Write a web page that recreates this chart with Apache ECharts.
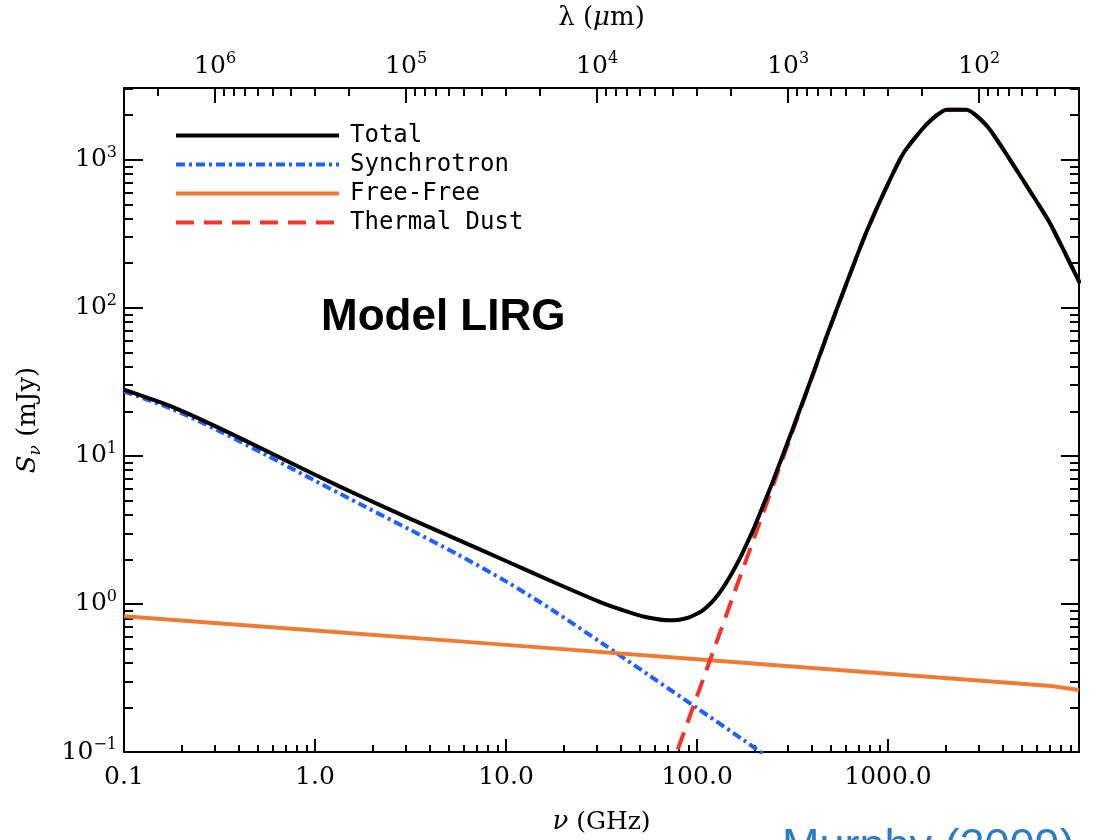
<!DOCTYPE html>
<html><head><meta charset="utf-8">
<script src="https://cdn.jsdelivr.net/npm/echarts@6/dist/echarts.min.js"></script>
<style>html,body{margin:0;padding:0;background:#fff}#c{width:1096px;height:840px}</style>
</head><body><div id="c"></div>
<script>
// ν in GHz, S in mJy
const nuTotal = [0.1, 0.178, 0.316, 0.562, 1, 1.78, 3.16, 5.62, 10, 17.8, 31.6, 44.7, 56.2, 70.8, 79.4, 89.1, 100, 105.9, 112.2, 118.9, 125.9, 133.4, 141.3, 149.6, 158.5, 167.9, 177.8, 188.4, 199.5, 223.9, 251.2, 316.2, 398.1, 477.5, 743, 944, 1202, 1592, 2028, 2576, 3350, 5534, 7047, 10116];
const sTotal  = [28.0, 21.5, 15.4, 10.75, 7.45, 5.25, 3.75, 2.71, 1.95, 1.40, 1.02, 0.874, 0.806, 0.775, 0.78, 0.804, 0.858, 0.895, 0.95, 1.02, 1.11, 1.225, 1.37, 1.55, 1.77, 2.04, 2.38, 2.79, 3.30, 4.74, 6.88, 15.05, 33.7, 64.5, 289, 586, 1102, 1734, 2178, 2178, 1648, 615, 372, 146];
const nuSync = [0.1, 0.178, 0.316, 0.562, 1, 1.78, 3.16, 5.62, 10, 17.8, 31.6, 56.2, 100, 178, 316];
const sSync  = [27.2, 20.75, 14.69, 10.05, 6.79, 4.62, 3.16, 2.15, 1.42, 0.896, 0.546, 0.329, 0.198, 0.1187, 0.0707];
const nuFF = [0.1, 1, 10, 100, 1000, 7160, 10000];
const sFF  = [0.826, 0.661, 0.529, 0.423, 0.338, 0.279, 0.262];
const nuDust = [70.8, 100, 125.9, 158.5, 199.5, 251.2, 316.2, 398.1, 477.5, 743, 944, 1202, 1592, 2028, 2576, 3350, 5534, 7047, 10116];
const sDust  = [0.0693, 0.238, 0.542, 1.236, 2.81, 6.41, 14.6, 33.3, 63.7, 289, 586, 1102, 1734, 2178, 2178, 1648, 615, 372, 146];

const seriesNames = ['Total', 'Synchrotron', 'Free-Free', 'Thermal Dust'];
const nuTicks = [0.1, 1, 10, 100, 1000];
const sTicks = [0.1, 1, 10, 100, 1000];
const lamTicks = [100, 1000, 10000, 100000, 1000000];
const C_UM_GHZ = 2.998e5; // λ[μm] = C / ν[GHz]
const NU_MIN = 0.1, NU_MAX = 1e4, S_MIN = 0.1, S_MAX = 3050;

function minors(lo, hi) {
  const out = [];
  for (let e = -3; e <= 7; e++) for (let k = 2; k <= 9; k++) {
    const v = k * Math.pow(10, e);
    if (v > lo * 1.0001 && v < hi * 0.9999) out.push(v);
  }
  return out;
}
function majors(lo, hi) {
  const out = [];
  for (let e = -3; e <= 7; e++) { const v = Math.pow(10, e); if (v >= lo * 0.9999 && v <= hi * 1.0001) out.push(v); }
  return out;
}
const FONT = 'DejaVu Serif';
const pow10Rich = {
  b: {fontFamily: FONT, fontSize: 25, color: '#000', lineHeight: 30},
  s: {fontFamily: FONT, fontSize: 16, color: '#000', verticalAlign: 'top', lineHeight: 16}
};
function pow10Label(v) {
  const e = Math.round(Math.log10(v));
  return '{b|10}{s|' + (e < 0 ? '\u2212' + (-e) : e) + '}';
}
const frame = {show: true, lineStyle: {color: '#000', width: 2}};
const LAM_MIN = C_UM_GHZ / NU_MAX, LAM_MAX = C_UM_GHZ / NU_MIN;

function pairs(xs, ys) { return xs.map((x, i) => [x, ys[i]]); }

const chart = echarts.init(document.getElementById('c'), null, {renderer: 'canvas'});
chart.setOption({
  animation: false,
  backgroundColor: '#fff',
  grid: {left: 124, right: 17, top: 81, bottom: 77, containLabel: false},
  xAxis: [
    {type: 'log', min: NU_MIN, max: NU_MAX, position: 'bottom',
      axisLine: frame,
      axisTick: {inside: true, length: 13, lineStyle: {color: '#000', width: 2}, customValues: majors(NU_MIN, NU_MAX)},
      axisLabel: {customValues: nuTicks, margin: 13, color: '#000', fontFamily: FONT, fontSize: 25,
        formatter: v => (Math.abs(v - 0.1) < 1e-9 ? '0.1' : Number(v).toFixed(1))},
      splitLine: {show: false},
      name: '{i|\u03bd}{n| (GHz)}', nameLocation: 'middle', nameGap: 57,
      nameTextStyle: {rich: {i: {fontFamily: FONT, fontStyle: 'italic', fontSize: 26, color: '#000'}, n: {fontFamily: FONT, fontSize: 25, color: '#000'}}}
    },
    {type: 'log', min: NU_MIN, max: NU_MAX, position: 'bottom',
      axisLine: {show: false},
      axisTick: {inside: true, length: 7, lineStyle: {color: '#000', width: 2}, customValues: minors(NU_MIN, NU_MAX)},
      axisLabel: {show: false}, splitLine: {show: false}
    },
    {type: 'log', min: LAM_MIN, max: LAM_MAX, inverse: true, position: 'top',
      axisLine: frame,
      axisTick: {inside: true, length: 15, lineStyle: {color: '#000', width: 2}, customValues: lamTicks},
      axisLabel: {customValues: lamTicks, margin: 7, formatter: pow10Label, rich: pow10Rich},
      splitLine: {show: false},
      name: '{n|\u03bb (}{i|\u03bc}{n|m)}', nameLocation: 'middle', nameGap: 57,
      nameTextStyle: {rich: {i: {fontFamily: FONT, fontStyle: 'italic', fontSize: 26, color: '#000'}, n: {fontFamily: FONT, fontSize: 26, color: '#000'}}}
    },
    {type: 'log', min: LAM_MIN, max: LAM_MAX, inverse: true, position: 'top',
      axisLine: {show: false},
      axisTick: {inside: true, length: 8, lineStyle: {color: '#000', width: 2}, customValues: minors(LAM_MIN, LAM_MAX)},
      axisLabel: {show: false}, splitLine: {show: false}
    }
  ],
  yAxis: [
    {type: 'log', min: S_MIN, max: S_MAX, position: 'left',
      axisLine: frame,
      axisTick: {inside: true, length: 19, lineStyle: {color: '#000', width: 2}, customValues: sTicks},
      axisLabel: {customValues: sTicks, margin: 7, formatter: pow10Label, rich: pow10Rich},
      splitLine: {show: false},
      name: '{i|S}{sub|\u03bd}{n| (mJy)}', nameLocation: 'middle', nameGap: 80, nameRotate: 90,
      nameTextStyle: {rich: {
        i: {fontFamily: FONT, fontStyle: 'italic', fontSize: 26, color: '#000', lineHeight: 32},
        sub: {fontFamily: FONT, fontStyle: 'italic', fontSize: 17, color: '#000', verticalAlign: 'bottom', lineHeight: 17},
        n: {fontFamily: FONT, fontSize: 26, color: '#000', lineHeight: 32}}}
    },
    {type: 'log', min: S_MIN, max: S_MAX, position: 'left',
      axisLine: {show: false},
      axisTick: {inside: true, length: 9, lineStyle: {color: '#000', width: 2}, customValues: minors(S_MIN, S_MAX)},
      axisLabel: {show: false}, splitLine: {show: false}
    },
    {type: 'log', min: S_MIN, max: S_MAX, position: 'right',
      axisLine: frame,
      axisTick: {inside: true, length: 18, lineStyle: {color: '#000', width: 2}, customValues: sTicks},
      axisLabel: {show: false}, splitLine: {show: false}
    },
    {type: 'log', min: S_MIN, max: S_MAX, position: 'right',
      axisLine: {show: false},
      axisTick: {inside: true, length: 9, lineStyle: {color: '#000', width: 2}, customValues: minors(S_MIN, S_MAX)},
      axisLabel: {show: false}, splitLine: {show: false}
    }
  ],
  legend: {
    orient: 'vertical', left: 169, top: 116,
    itemWidth: 163, itemHeight: 14, itemGap: 0,
    data: seriesNames,
    itemStyle: {opacity: 0},
    lineStyle: {width: 'inherit', opacity: 1},
    textStyle: {fontFamily: 'DejaVu Sans Mono', fontSize: 24, color: '#000', lineHeight: 29, padding: [0, 0, 0, 6]},
    selectedMode: false
  },
  graphic: [
    {type: 'text', left: 321, top: 296, style: {text: 'Model LIRG', font: 'bold 44px "Liberation Sans", Arial, sans-serif', fill: '#000'}},
    {type: 'text', x: 782, y: 848, style: {text: 'Murphy (2009)', font: '45px "Liberation Sans", Arial, sans-serif', fill: '#2a7bc9', verticalAlign: 'middle'}}
  ],
  series: [
    {name: seriesNames[1], type: 'line', data: pairs(nuSync, sSync), symbol: 'none', z: 2, smooth: 0.3,
      lineStyle: {color: '#1f5fff', width: 4, type: [9, 4, 3, 4]}, itemStyle: {color: '#1f5fff'}},
    {name: seriesNames[2], type: 'line', data: pairs(nuFF, sFF), symbol: 'none', z: 2,
      lineStyle: {color: '#f07a32', width: 4}, itemStyle: {color: '#f07a32'}},
    {name: seriesNames[3], type: 'line', data: pairs(nuDust, sDust), symbol: 'none', z: 2, smooth: 0.2,
      lineStyle: {color: '#f0352d', width: 4, type: [18, 10]}, itemStyle: {color: '#f0352d'}},
    {name: seriesNames[0], type: 'line', data: pairs(nuTotal, sTotal), symbol: 'none', z: 3, smooth: 0.2,
      lineStyle: {color: '#000', width: 4}, itemStyle: {color: '#000'}}
  ]
});
</script></body></html>
